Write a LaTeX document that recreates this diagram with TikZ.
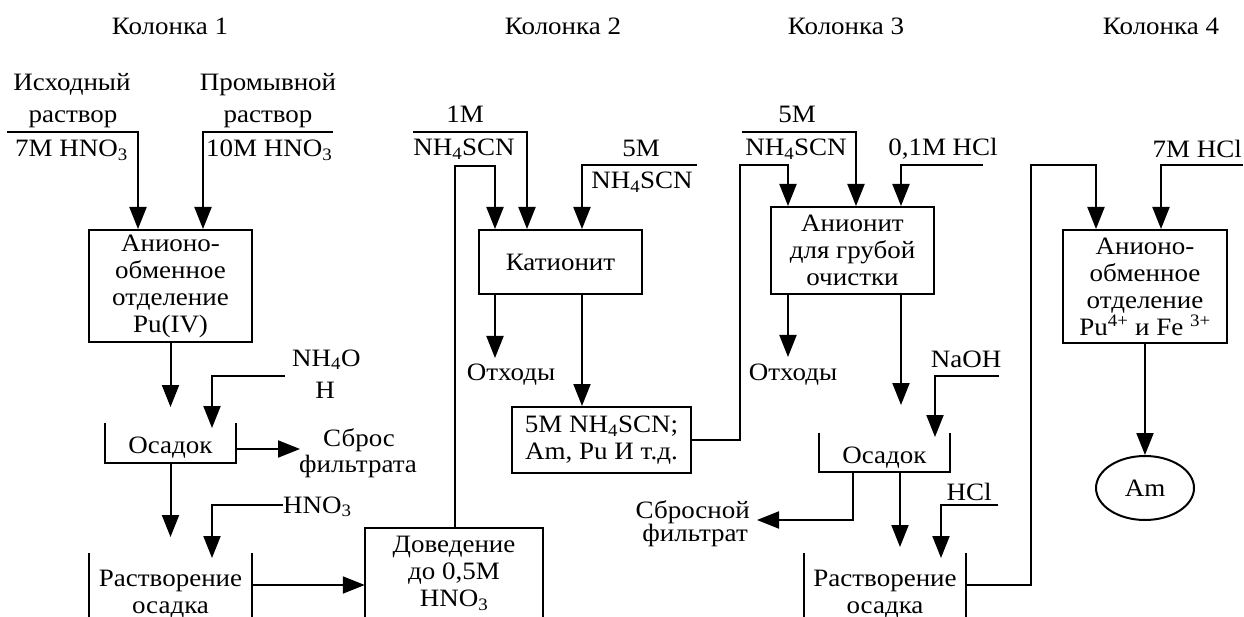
\documentclass[tikz,border=0pt]{standalone}
\usepackage{fontspec}
\setmainfont{Liberation Serif}[FakeStretch=1.08]
\usetikzlibrary{arrows.meta,shapes.geometric,calc}
\begin{document}
\begin{tikzpicture}[x=1pt,y=-1pt,
  lw/.style={line width=2pt},
  arr/.style={lw,-{Triangle[length=22pt,width=17pt]}},
  txt/.style={font=\fontsize{25}{27}\selectfont,inner sep=0pt,anchor=base},
  mtxt/.style={font=\fontsize{25}{27}\selectfont,inner sep=0pt,align=center,anchor=north},
  box/.style={draw,lw,font=\fontsize{25}{27}\selectfont,align=center,inner sep=0pt},
  frame/.style={inner sep=0pt,font=\fontsize{25}{27}\selectfont},
]
\useasboundingbox (0,0) rectangle (1244,617);
% titles
\node[txt] (t1) at (170,35) {Колонка 1};
\node[txt] (t2) at (563,35) {Колонка 2};
\node[txt] (t3) at (846,35) {Колонка 3};
\node[txt] (t4) at (1161,35) {Колонка 4};

% ---------- Column 1
\node[txt] (l1a) at (72,91) {Исходный};
\node[txt] (l1b) at (73,123) {раствор};
\node[txt,anchor=base west] (l1c) at (15,157) {7M HNO\textsubscript{3}};
\coordinate (p1a) at (7,132); \coordinate (p1b) at (138,132);
\node[txt] (l2a) at (268,91) {Промывной};
\node[txt] (l2b) at (268,123) {раствор};
\node[txt,anchor=base west] (l2c) at (206,157) {10M HNO\textsubscript{3}};
\coordinate (p2a) at (333,132); \coordinate (p2b) at (203,132);
\node[box,minimum width=163pt,minimum height=112pt] (b1) at (170.5,286)
  {Анионо-\\обменное\\отделение\\Pu(IV)};
\draw[arr] (p1a) -- (p1b) -- (b1.north -| p1b);
\draw[arr] (p2a) -- (p2b) -- (b1.north -| p2b);

\coordinate (e1) at (170.5,407);
\draw[arr] (b1.south) -- (e1);

\node[frame,text height=22pt,text depth=2pt,minimum width=131pt,minimum height=40pt] (os1) at (170.5,443) {Осадок};
\draw[lw] (os1.north west) -- (os1.south west) -- (os1.south east) -- (os1.north east);

\node[txt,anchor=base west] (l3a) at (292,366) {NH\textsubscript{4}O};
\node[txt] (l3b) at (325,398) {H};
\coordinate (p3a) at (285,376); \coordinate (p3b) at (212,376); \coordinate (e3) at (212,428);
\draw[arr] (p3a) -- (p3b) -- (e3);

\coordinate (e2) at (300,449);
\draw[arr] ([yshift=-6pt]os1.east) -- (e2);
\node[txt,anchor=base west] (l4a) at (323,446) {Сброс};
\node[txt,anchor=base west] (l4b) at (299,472) {фильтрата};

\coordinate (e4a) at (170.5,537);
\draw[arr] (os1.south) -- (e4a);

\node[txt,anchor=base west] (l5) at (283,513) {HNO\textsubscript{3}};
\coordinate (p4a) at (283,505); \coordinate (p4b) at (212,505); \coordinate (e5a) at (212,558);
\draw[arr] (p4a) -- (p4b) -- (e5a);

\node[frame,minimum width=163pt,minimum height=64pt] (r1) at (170.5,585) {};
\draw[lw] (r1.north west) -- (r1.south west);
\draw[lw] (r1.north east) -- (r1.south east);
\node[mtxt] (r1t) at (170.5,570) {Растворение\\осадка};

% ---------- Column 2
\node[frame,minimum width=178pt,minimum height=89pt] (d1) at (454,572.5) {};
\draw[lw] (d1.south west) -- (d1.north west) -- (d1.north east) -- (d1.south east);
\node[mtxt] (d1t) at (454,536) {Доведение\\до 0,5M\\HNO\textsubscript{3}};
\draw[arr] (r1.east) -- (r1.east -| d1.west);

\node[box,minimum width=163pt,minimum height=64pt] (k1) at (560.5,262) {Катионит};
\node[txt] (l6a) at (465,123) {1M};
\node[txt] (l6b) at (464,156) {NH\textsubscript{4}SCN};
\coordinate (p6a) at (413,132); \coordinate (p6b) at (527,132);
\draw[arr] (p6a) -- (p6b) -- (k1.north -| p6b);
\node[txt] (l7a) at (641,157) {5M};
\node[txt] (l7b) at (642,189) {NH\textsubscript{4}SCN};
\coordinate (p7a) at (697,165); \coordinate (p7b) at (582,165);
\draw[arr] (p7a) -- (p7b) -- (k1.north -| p7b);

\coordinate (q1) at (455,166); \coordinate (q2) at (495,166);
\draw[arr] (d1.north -| q1) -- (q1) -- (q2) -- (k1.north -| q2);

\coordinate (e6) at (495,358);
\draw[arr] (k1.south -| q2) -- (e6);
\node[txt] (l8) at (511,380) {Отходы};

\node[box,minimum width=179pt,minimum height=66pt] (m1) at (601.5,440) {5M NH\textsubscript{4}SCN;\\Am, Pu И т.д.};
\draw[arr] (k1.south -| p7b) -- (m1.north -| p7b);

% ---------- Column 3
\node[box,minimum width=163pt,minimum height=87pt] (a1) at (852.5,250.5) {Анионит\\для грубой\\очистки};
\coordinate (q3) at (740,440); \coordinate (q4) at (740,165); \coordinate (q5) at (788,165);
\draw[arr] (m1.east) -- (q3) -- (q4) -- (q5) -- (a1.north -| q5);

\node[txt] (l9a) at (797,123) {5M};
\node[txt] (l9b) at (796,156) {NH\textsubscript{4}SCN};
\coordinate (p9a) at (742,132); \coordinate (p9b) at (856,132);
\draw[arr] (p9a) -- (p9b) -- (a1.north -| p9b);
\node[txt] (l10) at (943,156) {0,1M HCl};
\coordinate (p10a) at (983,165); \coordinate (p10b) at (901,165);
\draw[arr] (p10a) -- (p10b) -- (a1.north -| p10b);

\coordinate (e7) at (788,357);
\draw[arr] (a1.south -| q5) -- (e7);
\node[txt] (l11) at (793,380) {Отходы};
\coordinate (e8) at (901,405);
\draw[arr] (a1.south -| p10b) -- (e8);

\node[txt] (l12) at (966,367) {NaOH};
\coordinate (p12a) at (999,376); \coordinate (p12b) at (935,376); \coordinate (e9) at (935,437);
\draw[arr] (p12a) -- (p12b) -- (e9);

\node[frame,text height=23pt,text depth=2pt,minimum width=131pt,minimum height=39pt] (os2) at (884.5,452.5) {Осадок};
\draw[lw] (os2.north west) -- (os2.south west) -- (os2.south east) -- (os2.north east);

\coordinate (q6) at (853,520); \coordinate (e10) at (757,520);
\draw[arr] (os2.south -| q6) -- (q6) -- (e10);
\node[txt,anchor=base east] (l13a) at (750,518) {Сбросной};
\node[txt,anchor=base east] (l13b) at (748,541) {фильтрат};

\coordinate (e11) at (900,547);
\draw[arr] (os2.south -| e11) -- (e11);

\node[txt] (l14) at (969,500) {HCl};
\coordinate (p14a) at (998,505); \coordinate (p14b) at (941,505); \coordinate (e12) at (941,558);
\draw[arr] (p14a) -- (p14b) -- (e12);

\node[frame,minimum width=162pt,minimum height=64pt] (r2) at (885,585) {};
\draw[lw] (r2.north west) -- (r2.south west);
\draw[lw] (r2.north east) -- (r2.south east);
\node[mtxt] (r2t) at (885,570) {Растворение\\осадка};

% ---------- Column 4
\node[box,minimum width=164pt,minimum height=113pt] (c4) at (1145,286.5)
  {Анионо-\\обменное\\отделение\\Pu\textsuperscript{4+} и Fe \textsuperscript{3+}};
\coordinate (q7) at (1031,585); \coordinate (q8) at (1031,165); \coordinate (q9) at (1096,165);
\draw[arr] (r2.east) -- (q7) -- (q8) -- (q9) -- (c4.north -| q9);

\node[txt,anchor=base east] (l15) at (1242,158) {7M HCl};
\coordinate (p15a) at (1243,165); \coordinate (p15b) at (1161,165);
\draw[arr] (p15a) -- (p15b) -- (c4.north -| p15b);

\node[ellipse,draw,lw,inner sep=0pt,minimum width=98pt,minimum height=64pt,font=\fontsize{25}{27}\selectfont] (am) at (1145,488) {Am};
\draw[arr] (c4.south) -- (am.north);
\end{tikzpicture}
\end{document}
